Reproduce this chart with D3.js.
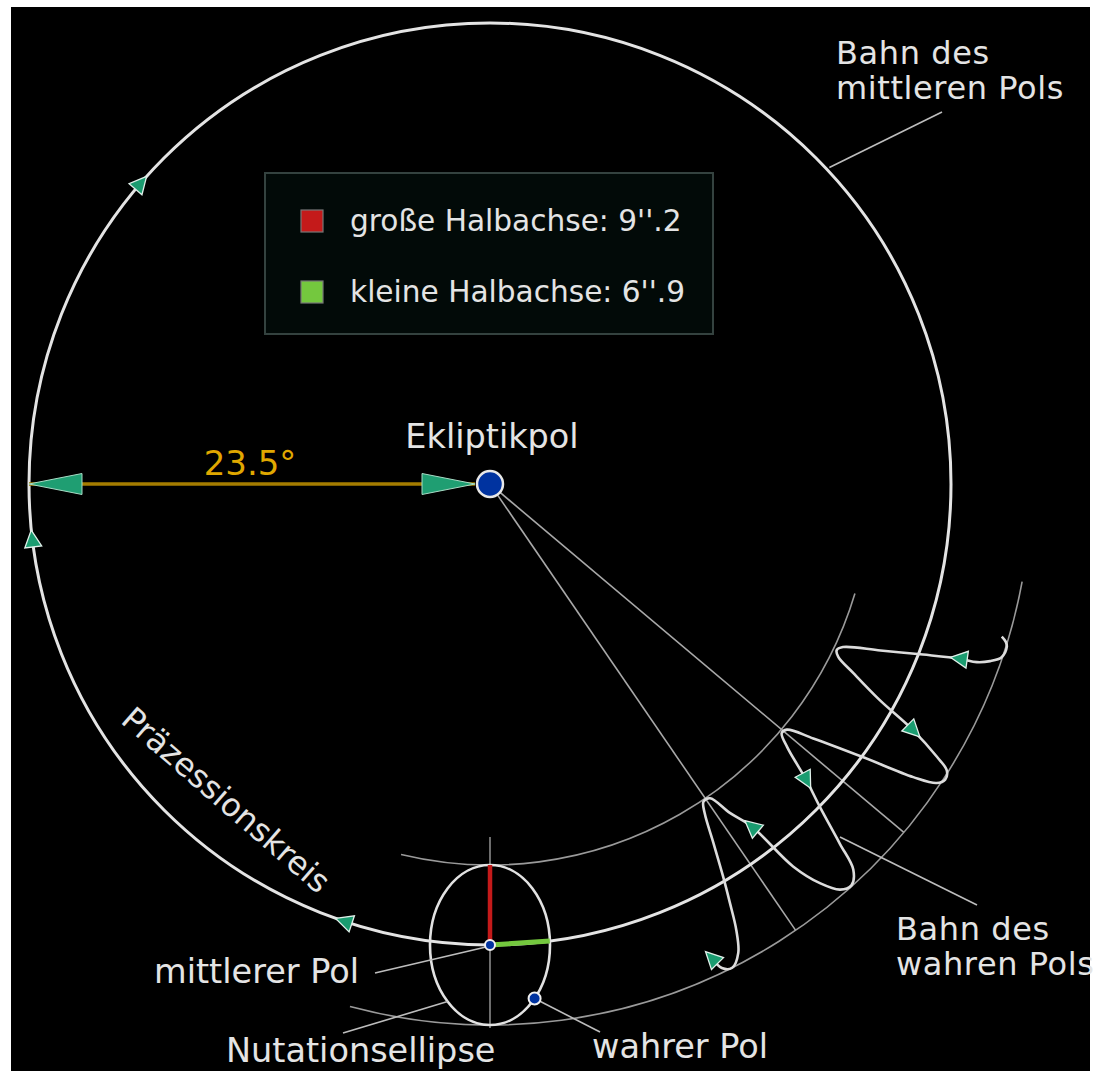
<!DOCTYPE html>
<html>
<head>
<meta charset="utf-8">
<script src="https://cdn.jsdelivr.net/npm/d3@7"></script>
<style>
  html, body { margin: 0; padding: 0; background: #fff; }
  svg { display: block; }
  text { font-family: "DejaVu Sans", Verdana, sans-serif; fill: #e4e4e4; }
</style>
</head>
<body>
<div id="chart"></div>
<script>
// radius of the precession circle = obliquity of the ecliptic, degrees
const obliquity = 23.5;

// nutation ellipse semi-axes, arcseconds
const semiAxisNames = ["große Halbachse", "kleine Halbachse"];
const semiAxisValues = [9.2, 6.9];
const semiAxisColors = ["#c41a1a", "#74c83e"];

// direction arrows on the precession circle (position angle, deg)
const precessionArrowAngles = [108.4, 173.1, 220.7];

// true pole path: [position angle deg, nutation offset arcsec]
const truePolePath = [
  [16.6, 8.4], [17.0, 9.0], [17.5, 9.3], [18.7, 9.1], [19.5, 8.0], [20.1, 6.6],
  [20.4, 4.6], [21.5, 0.5], [23.1, -4.2], [24.8, -8.3], [25.6, -8.8], [26.4, -8.3],
  [27.5, -5.9], [29.0, -1.8], [30.2, 3.3], [31.4, 7.2], [32.1, 9.0], [33.0, 9.4],
  [33.8, 8.8], [34.7, 6.2], [36.2, 0.2], [38.2, -5.7], [39.6, -8.7], [40.5, -8.9],
  [41.5, -7.4], [42.5, -4.9], [43.1, -3.2], [44.4, 0.1], [45.8, 4.7], [46.7, 7.9],
  [48.0, 9.1], [49.2, 8.6], [50.4, 6.6], [51.6, 3.1], [52.6, -3.4], [53.9, -6.2],
  [55.0, -8.9], [56.1, -9.0], [56.9, -7.8], [58.1, -4.4], [59.3, -0.5], [60.2, 2.5],
  [61.1, 5.6], [62.1, 8.0], [63.4, 9.2], [64.4, 8.7], [64.9, 7.2]
];
// points of the path that carry a direction arrow
const pathArrowIdx = [6, 14, 26, 34, 46];

// thin guide arcs at +/- major semi-axis, angle ranges (deg)
const innerArcRange = [16.7, 103.5];
const outerArcRange = [10.4, 105];
// radial lines from the ecliptic pole (deg)
const radialAngles = [40.1, 55.6];

// phases on the nutation ellipse (deg)
const truePolePhase = 42;
const ellipseLeaderPhase = 135;

// ---- layout
const W = 1098, H = 1084;
const cx = 490, cy = 484;

const rScale = d3.scaleLinear().domain([0, obliquity]).range([0, 461]);
const nut = d3.scaleLinear().domain([0, semiAxisValues[0]]).range([0, 80]);
const rad = d3.scaleLinear().domain([0, 180]).range([0, Math.PI]);

const R = rScale(obliquity);
const rIn = R - nut(semiAxisValues[0]);
const rOut = R + nut(semiAxisValues[0]);

function polar(a, rr) {
  return [cx + rr * Math.cos(rad(a)), cy + rr * Math.sin(rad(a))];
}

function triangle(p, dir, len, half, tipFrac) {
  const l = Math.hypot(dir[0], dir[1]);
  const ux = dir[0] / l, uy = dir[1] / l;
  const nx = -uy, ny = ux;
  const tip = [p[0] + ux * len * tipFrac, p[1] + uy * len * tipFrac];
  const bx = p[0] - ux * len * (1 - tipFrac), by = p[1] - uy * len * (1 - tipFrac);
  return [tip, [bx + nx * half, by + ny * half], [bx - nx * half, by - ny * half]];
}

const svg = d3.select("#chart").append("svg")
  .attr("width", W)
  .attr("height", H);

svg.append("rect").attr("width", W).attr("height", H).attr("fill", "#fff");
svg.append("rect")
  .attr("x", 11).attr("y", 7)
  .attr("width", 1079).attr("height", 1064)
  .attr("fill", "#000");

const line = d3.line();

// guide arcs
[[rIn, innerArcRange], [rOut, outerArcRange]].forEach(([rr, range]) => {
  const p = d3.path();
  p.arc(cx, cy, rr, rad(range[0]), rad(range[1]));
  svg.append("path")
    .attr("d", p.toString())
    .attr("fill", "none")
    .attr("stroke", "#9a9a9a")
    .attr("stroke-width", 1.6);
});

// radial lines from the ecliptic pole
svg.selectAll(".radial")
  .data(radialAngles)
  .join("path")
  .attr("class", "radial")
  .attr("d", a => line([polar(a, 12), polar(a, rOut)]))
  .attr("stroke", "#a8a8a8")
  .attr("stroke-width", 1.6);

// vertical axis through the mean pole
svg.append("path")
  .attr("d", line([polar(90, rIn - 28), polar(90, rOut + 3)]))
  .attr("stroke", "#8a8a8a")
  .attr("stroke-width", 1.6);

// precession circle
svg.append("circle")
  .attr("cx", cx).attr("cy", cy).attr("r", R)
  .attr("fill", "none")
  .attr("stroke", "#e4e4e4")
  .attr("stroke-width", 3);

// true pole path
const pathPts = truePolePath.map(d => polar(d[0], R + nut(d[1])));
svg.append("path")
  .attr("d", d3.line().curve(d3.curveCatmullRom.alpha(0.5))(pathPts))
  .attr("fill", "none")
  .attr("stroke", "#dcdcdc")
  .attr("stroke-width", 2.6);

// nutation ellipse
const mp = polar(90, R);
const rx = nut(semiAxisValues[1]), ry = nut(semiAxisValues[0]);
svg.append("ellipse")
  .attr("cx", mp[0]).attr("cy", mp[1])
  .attr("rx", rx).attr("ry", ry)
  .attr("fill", "none")
  .attr("stroke", "#e2e2e2")
  .attr("stroke-width", 2.6);

// semi-axes
svg.append("path")
  .attr("d", line([mp, polar(90, rIn)]))
  .attr("stroke", semiAxisColors[0])
  .attr("stroke-width", 4.5);
const minorAngle = 90 - rad.invert(rx / R);
svg.append("path")
  .attr("d", line([mp, polar(minorAngle, R)]))
  .attr("stroke", semiAxisColors[1])
  .attr("stroke-width", 5);

const tp = [mp[0] + rx * Math.cos(rad(truePolePhase)), mp[1] + ry * Math.sin(rad(truePolePhase))];
const ep = [mp[0] + rx * Math.cos(rad(ellipseLeaderPhase)), mp[1] + ry * Math.sin(rad(ellipseLeaderPhase))];

// leader lines
const leaders = [
  [polar(-43, R + 3), [942, 112]],
  [[mp[0] - 4, mp[1] + 2], [375, 973]],
  [ep, [343, 1033]],
  [tp, [600, 1032]],
  [[840, 837], [977, 905]]
];
svg.selectAll(".leader")
  .data(leaders)
  .join("path")
  .attr("class", "leader")
  .attr("d", d => line(d))
  .attr("stroke", "#bdbdbd")
  .attr("stroke-width", 1.6);

// 23.5 degree measure
const dotR = 13;
const mStart = polar(180, R), mEnd = polar(180, dotR + 2);
svg.append("path")
  .attr("d", line([mStart, mEnd]))
  .attr("stroke", "#a47c00")
  .attr("stroke-width", 3.5);
[[mStart, [-1, 0]], [mEnd, [1, 0]]].forEach(([tip, dir]) => {
  svg.append("path")
    .attr("d", line(triangle(tip, dir, 53, 10.5, 0)) + "Z")
    .attr("fill", "#1f9e72")
    .attr("stroke", "#a8dcc6")
    .attr("stroke-width", 1);
});

// direction arrows
const arrowData = precessionArrowAngles.map(a => ({
  p: polar(a, R),
  dir: [-Math.sin(rad(a)), Math.cos(rad(a))]
})).concat(pathArrowIdx.map(i => {
  const a = pathPts[Math.max(0, i - 1)], b = pathPts[Math.min(pathPts.length - 1, i + 1)];
  return { p: pathPts[i], dir: [b[0] - a[0], b[1] - a[1]] };
}));
svg.selectAll(".arrow")
  .data(arrowData)
  .join("path")
  .attr("class", "arrow")
  .attr("d", d => line(triangle(d.p, d.dir, 17, 8.5, 0.55)) + "Z")
  .attr("fill", "#1a9c70")
  .attr("stroke", "#e0f0ea")
  .attr("stroke-width", 1.3);

// poles
svg.append("circle")
  .attr("cx", cx).attr("cy", cy).attr("r", dotR)
  .attr("fill", "#0033a0")
  .attr("stroke", "#e8e8e8")
  .attr("stroke-width", 2.5);
[[mp, 5], [tp, 6]].forEach(([p, r]) => {
  svg.append("circle")
    .attr("cx", p[0]).attr("cy", p[1]).attr("r", r)
    .attr("fill", "#0033a0")
    .attr("stroke", "#f0f0f0")
    .attr("stroke-width", 2);
});

// labels
svg.append("text")
  .attr("x", 250).attr("y", 475)
  .attr("text-anchor", "middle")
  .style("font-size", "34px")
  .style("fill", "#e0a800")
  .text(obliquity + "°");

svg.append("text")
  .attr("x", cx + 2).attr("y", 448)
  .attr("text-anchor", "middle")
  .style("font-size", "33.5px")
  .text("Ekliptikpol");

const labels = [
  { x: 836, y: 64, lines: ["Bahn des", "mittleren Pols"] },
  { x: 896, y: 940, lines: ["Bahn des", "wahren Pols"] },
  { x: 154, y: 983, lines: ["mittlerer Pol"] },
  { x: 226, y: 1062, lines: ["Nutationsellipse"] },
  { x: 592, y: 1058, lines: ["wahrer Pol"] }
];
labels.forEach(l => {
  const multi = l.lines.length > 1;
  l.lines.forEach((s, i) => {
    svg.append("text")
      .attr("x", l.x).attr("y", l.y + i * 35)
      .style("font-size", multi ? "32px" : "33.5px")
      .style("letter-spacing", multi ? "0.6px" : "0px")
      .text(s);
  });
});

svg.append("text")
  .attr("transform", "translate(226,800) rotate(41)")
  .attr("text-anchor", "middle")
  .attr("dominant-baseline", "central")
  .style("font-size", "32px")
  .text("Präzessionskreis");

// legend
const legend = svg.append("g");
legend.append("rect")
  .attr("x", 265).attr("y", 173)
  .attr("width", 448).attr("height", 161)
  .attr("fill", "#020a08")
  .attr("stroke", "#34423f")
  .attr("stroke-width", 2);

function fmtArcsec(v) {
  const [i, f] = v.toFixed(1).split(".");
  return i + "''." + f;
}
const rowY = d3.scalePoint().domain(semiAxisNames).range([221, 292]);
semiAxisNames.forEach((name, i) => {
  legend.append("rect")
    .attr("x", 301).attr("y", rowY(name) - 11)
    .attr("width", 22).attr("height", 22)
    .attr("fill", semiAxisColors[i])
    .attr("stroke", "#777")
    .attr("stroke-width", 1.2);
  legend.append("text")
    .attr("x", 350).attr("y", rowY(name) + 10)
    .style("font-size", "29.6px")
    .text(name + ": " + fmtArcsec(semiAxisValues[i]));
});
</script>
</body>
</html>
